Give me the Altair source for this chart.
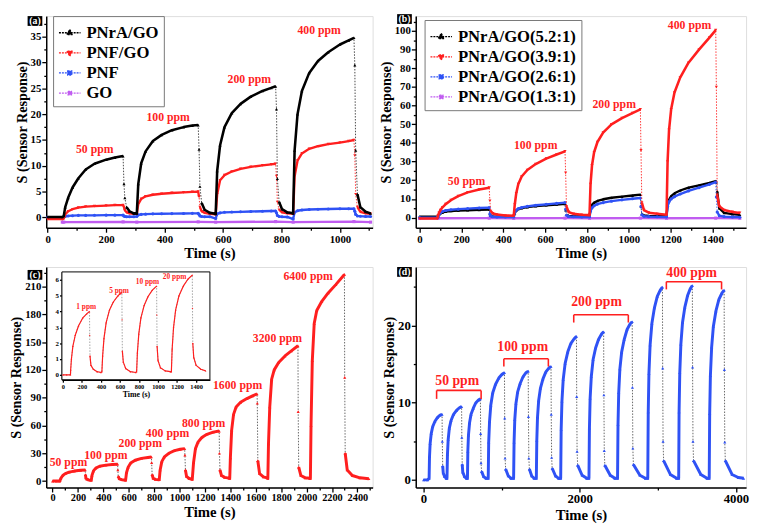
import altair as alt
import pandas as pd

FONT = "Liberation Serif"
RED = "#ff1f1f"
BLUE = "#2f52f5"
MAG = "#c05cf0"

# ---------------- Panel (a) ----------------
A_T = [0, 50,
       55, 60, 70, 85, 105, 130, 160, 200, 230, 258,
       261, 264, 270, 280, 295,
       305, 310, 320, 335, 360, 390, 425, 465, 495, 515,
       518, 521, 527, 537, 555,
       575, 580, 590, 605, 630, 660, 695, 735, 765, 780,
       783, 786, 792, 802, 820,
       840, 845, 855, 870, 895, 925, 960, 1000, 1030, 1048,
       1051, 1054, 1060, 1070, 1088, 1105]
A_PNRA_GO = [0.1, 0.1,
             0.3, 2.0, 3.8, 5.8, 7.6, 9.3, 10.4, 11.2, 11.6, 11.9,
             6.5, 3.8, 2.0, 1.2, 0.8,
             0.8, 6.5, 10.5, 12.8, 14.8, 16.0, 16.9, 17.5, 17.8, 17.9,
             13.2, 6.0, 2.8, 1.5, 0.9,
             0.7, 9.0, 14.0, 17.5, 20.2, 22.0, 23.4, 24.5, 25.1, 25.4,
             21.0, 7.5, 3.0, 1.6, 1.0,
             0.8, 13.0, 20.0, 24.5, 28.0, 30.3, 32.0, 33.5, 34.3, 34.8,
             29.5, 13.0, 4.5, 2.0, 1.1, 0.8]
A_PNF_GO = [-0.3, -0.3,
            -0.2, 0.6, 1.2, 1.6, 1.9, 2.1, 2.2, 2.3, 2.4, 2.4,
            2.0, 1.4, 1.0, 0.8, 0.7,
            0.7, 2.6, 3.6, 4.1, 4.4, 4.6, 4.75, 4.85, 4.95, 5.0,
            4.0, 2.0, 1.2, 0.9, 0.7,
            0.6, 4.5, 7.2, 8.2, 8.9, 9.4, 9.8, 10.1, 10.3, 10.4,
            8.0, 3.0, 1.5, 1.0, 0.8,
            0.7, 8.0, 11.0, 12.4, 13.3, 13.8, 14.2, 14.5, 14.8, 15.0,
            12.0, 4.5, 2.0, 1.1, 0.8, 0.7]
A_PNF = [0.05, 0.05,
         0.1, 0.2, 0.3, 0.35, 0.4, 0.4, 0.42, 0.45, 0.45, 0.45,
         0.3, 0.2, 0.15, 0.15, 0.15,
         0.2, 0.5, 0.6, 0.65, 0.7, 0.72, 0.75, 0.78, 0.8, 0.8,
         0.6, 0.3, 0.2, 0.15, 0.15,
         -0.2, 0.7, 0.9, 1.0, 1.05, 1.1, 1.15, 1.2, 1.25, 1.25,
         0.9, 0.4, 0.2, 0.15, 0.1,
         -0.3, 1.0, 1.3, 1.45, 1.55, 1.6, 1.65, 1.7, 1.7, 1.7,
         1.2, 0.6, 0.3, 0.25, 0.2, 0.2]
A_GO_T = [50, 55, 258, 305, 515, 575, 780, 840, 1048, 1105]
A_GO = [-0.9, -0.9, -0.85, -0.9, -0.85, -0.9, -0.8, -0.9, -0.8, -0.9]
A_NAMES = ["PNrA/GO", "PNF/GO", "PNF", "GO"]
A_LAB = ["50 ppm", "100 ppm", "200 ppm", "400 ppm"]
A_LAB_X = [161, 412, 690, 929]
A_LAB_Y = [13.3, 19.5, 26.8, 36.2]

# ---------------- Panel (b) ----------------
B_T = [0, 85,
       88, 93, 100, 110, 125, 150, 185, 230, 285, 333,
       336, 340, 350, 370, 410,
       450, 455, 462, 472, 488, 515, 555, 605, 655, 695,
       698, 702, 712, 735, 775,
       812, 817, 824, 834, 850, 877, 917, 967, 1017, 1055,
       1058, 1062, 1072, 1095, 1135,
       1180, 1185, 1192, 1202, 1218, 1245, 1285, 1335, 1385, 1415,
       1418, 1422, 1432, 1455, 1495, 1530]
B_52 = [0.5, 0.5,
        0.6, 1.5, 2.3, 2.8, 3.2, 3.5, 3.7, 3.9, 4.1, 4.3,
        2.0, 1.0, 0.6, 0.5, 0.5,
        0.5, 2.5, 3.8, 4.6, 5.1, 5.6, 6.1, 6.6, 7.0, 7.3,
        4.0, 1.5, 0.9, 0.7, 0.6,
        0.8, 4.5, 6.8, 8.0, 8.9, 9.8, 10.6, 11.2, 11.8, 12.3,
        6.0, 1.8, 1.2, 0.9, 0.8,
        1.0, 6.5, 9.5, 11.5, 13.0, 14.5, 16.0, 17.3, 18.6, 19.5,
        19.0, 14.0, 5.0, 2.5, 1.8, 1.5]
B_39 = [-0.5, -0.5,
        1.0, 2.5, 4.0, 5.5, 7.2, 9.3, 11.5, 13.5, 15.0, 16.0,
        9.0, 3.5, 2.2, 1.6, 1.1,
        1.0, 7.0, 13.0, 18.0, 22.0, 25.5, 28.7, 31.6, 33.8, 35.5,
        24.0, 6.0, 3.0, 2.0, 1.5,
        1.3, 18.0, 28.0, 35.0, 40.5, 45.5, 50.0, 53.3, 56.0, 58.0,
        36.0, 8.0, 4.0, 2.6, 2.0,
        1.5, 30.0, 47.0, 58.0, 67.0, 75.0, 83.0, 90.0, 96.5, 100.5,
        70.0, 12.0, 6.0, 4.0, 3.0, 2.5]
B_26 = [0.0, 0.0,
        0.2, 1.5, 2.6, 3.3, 3.8, 4.2, 4.5, 4.8, 5.1, 5.3,
        2.0, 0.8, 0.4, 0.3, 0.3,
        0.3, 2.8, 4.0, 4.8, 5.4, 6.0, 6.6, 7.1, 7.6, 8.0,
        4.5, 1.2, 0.6, 0.4, 0.3,
        0.3, 3.5, 5.2, 6.3, 7.2, 8.0, 8.8, 9.5, 10.1, 10.5,
        6.0, 1.5, 0.7, 0.5, 0.4,
        0.3, 6.0, 8.5, 10.0, 11.2, 12.6, 14.3, 16.0, 17.8, 19.0,
        11.0, 3.0, 1.0, 0.5, 0.3, 0.2]
B_13_T = [0, 88, 333, 450, 695, 812, 1055, 1180, 1415, 1530]
B_13 = [-0.5, -0.4, -0.3, -0.4, -0.3, -0.4, -0.3, -0.4, -0.3, -0.4]
B_NAMES = ["PNrA/GO(5.2:1)", "PNrA/GO(3.9:1)", "PNrA/GO(2.6:1)", "PNrA/GO(1.3:1)"]
B_LAB = ["50 ppm", "100 ppm", "200 ppm", "400 ppm"]
B_LAB_X = [225, 555, 930, 1290]
B_LAB_Y = [19.8, 38.7, 60.8, 103.4]

# ---------------- Panel (c) ----------------
C_T = [0, 30, 55,
       58, 65, 80, 100, 130, 170, 220, 257,
       259, 262, 270, 285, 300,
       305, 310, 322, 340, 370, 420, 470, 512,
       514, 517, 525, 545, 570,
       575, 582, 595, 615, 650, 700, 750, 778,
       780, 784, 792, 810, 835,
       840, 847, 860, 880, 915, 960, 1005, 1040,
       1042, 1046, 1055, 1075, 1097,
       1100, 1110, 1125, 1145, 1175, 1215, 1265, 1312,
       1314, 1318, 1330, 1355, 1390,
       1395, 1400, 1410, 1425, 1445, 1480, 1530, 1575, 1610,
       1612, 1616, 1630, 1660, 1690,
       1695, 1700, 1710, 1725, 1745, 1780, 1830, 1880, 1932,
       1934, 1938, 1955, 1990, 2025,
       2030, 2035, 2045, 2060, 2080, 2120, 2170, 2230, 2298,
       2300, 2304, 2320, 2360, 2420, 2490]
C_S = [0.0, 0.0, 0.0,
       0.5, 3.0, 6.0, 8.0, 9.6, 10.8, 11.6, 12.0,
       7.0, 3.5, 2.0, 1.3, 1.0,
       1.0, 6.0, 11.0, 14.0, 16.0, 17.2, 17.8, 18.2,
       12.0, 5.0, 2.5, 1.5, 1.2,
       1.0, 9.0, 15.0, 19.5, 22.5, 24.5, 25.5, 26.0,
       20.0, 7.0, 3.0, 1.8, 1.5,
       1.5, 12.0, 21.0, 26.0, 30.0, 32.8, 34.3, 35.0,
       28.0, 12.0, 5.0, 2.8, 2.2,
       2.0, 20.0, 35.0, 42.0, 47.0, 50.5, 52.8, 54.0,
       30.0, 12.0, 6.0, 4.0, 3.2,
       3.0, 25.0, 55.0, 72.0, 80.0, 85.0, 89.0, 92.0, 94.0,
       84.0, 22.0, 8.0, 4.5, 3.5,
       3.0, 40.0, 80.0, 110.0, 120.0, 128.0, 135.0, 140.5, 146.0,
       75.0, 15.0, 6.0, 3.5, 3.0,
       3.0, 60.0, 130.0, 170.0, 184.0, 194.0, 203.0, 212.0, 223.0,
       112.0, 30.0, 12.0, 6.0, 3.5, 2.5]
C_LAB = ["50 ppm", "100 ppm", "200 ppm", "400 ppm", "800 ppm", "1600 ppm", "3200 ppm", "6400 ppm"]
C_LAB_X = [125, 420, 690, 905, 1189, 1457, 1771, 2012]
C_LAB_Y = [20.0, 28.5, 40.5, 51.5, 63, 104, 154.7, 221]

# inset of (c)
CI_T = [0, 40, 80,
        82, 90, 105, 130, 165, 210, 250, 280,
        282, 285, 295, 320, 360, 400,
        410, 418, 432, 455, 490, 530, 580, 620,
        622, 625, 635, 660, 710, 765,
        775, 783, 798, 820, 855, 895, 940, 985,
        987, 990, 1000, 1025, 1075, 1130,
        1140, 1148, 1163, 1185, 1220, 1265, 1315, 1360,
        1362, 1365, 1375, 1400, 1450, 1500]
CI_S = [0, 0, 0,
        0.3, 1.0, 1.8, 2.5, 3.1, 3.6, 3.85, 4.0,
        2.5, 1.2, 0.6, 0.35, 0.2, 0.15,
        0.2, 1.2, 2.3, 3.3, 4.1, 4.6, 5.0, 5.2,
        3.5, 1.5, 0.8, 0.4, 0.2, 0.15,
        0.2, 1.4, 2.6, 3.6, 4.4, 4.95, 5.35, 5.6,
        3.8, 1.8, 0.9, 0.45, 0.25, 0.2,
        0.2, 1.6, 3.0, 4.1, 5.0, 5.6, 6.05, 6.3,
        4.2, 2.0, 1.1, 0.6, 0.35, 0.25]
CI_LAB = ["1 ppm", "5 ppm", "10 ppm", "20 ppm"]
CI_LAB_X = [245, 590, 889, 1174]
CI_LAB_Y = [4.3, 5.3, 5.84, 6.15]

# ---------------- Panel (d) ----------------
D_T = [0, 50,
       71, 76, 84, 98, 117, 146, 179, 212, 237, 240, 245, 252, 270, 290,
       300, 306, 315, 330, 352, 384, 422, 459, 487, 490, 495, 502, 525, 550,
       562, 567, 575, 589, 608, 637, 670, 703, 728, 731, 736, 743, 770, 800,
       828, 834, 845, 861, 886, 922, 963, 1005, 1036, 1039, 1044, 1051, 1085, 1120,
       1153, 1159, 1168, 1183, 1205, 1237, 1275, 1312, 1340, 1343, 1348, 1355, 1385, 1415,
       1444, 1450, 1459, 1474, 1497, 1529, 1566, 1604, 1632, 1635, 1640, 1647, 1690, 1730,
       1756, 1762, 1772, 1788, 1813, 1847, 1887, 1928, 1958, 1961, 1966, 1973, 2030, 2090,
       2118, 2124, 2133, 2148, 2171, 2203, 2240, 2278, 2306, 2309, 2314, 2321, 2390, 2450,
       2484, 2490, 2499, 2514, 2537, 2569, 2606, 2644, 2672, 2675, 2680, 2687, 2770, 2840,
       2871, 2877, 2886, 2901, 2924, 2956, 2993, 3031, 3059, 3062, 3067, 3074, 3160, 3240,
       3267, 3272, 3281, 3295, 3316, 3346, 3381, 3416, 3442, 3445, 3450, 3457, 3550, 3630,
       3658, 3664, 3673, 3689, 3711, 3744, 3782, 3820, 3849, 3852, 3857, 3864, 3950, 4030, 4099]
D_S = [0.0, 0.0,
       0.2, 3.0, 4.7, 6.0, 6.9, 7.6, 8.1, 8.4, 8.5, 5.0, 1.8, 0.9, 0.4, 0.2,
       0.2, 3.3, 5.2, 6.7, 7.7, 8.5, 9.0, 9.35, 9.5, 5.5, 2.0, 1.0, 0.4, 0.2,
       0.2, 3.7, 5.8, 7.4, 8.5, 9.3, 10.0, 10.35, 10.5, 6.0, 2.2, 1.1, 0.4, 0.2,
       0.2, 4.9, 7.6, 9.7, 11.3, 12.4, 13.2, 13.7, 13.9, 8.0, 2.8, 1.4, 0.5, 0.2,
       0.2, 4.9, 7.8, 9.9, 11.4, 12.5, 13.4, 13.9, 14.1, 8.2, 2.8, 1.4, 0.5, 0.2,
       0.2, 5.1, 8.1, 10.3, 11.9, 13.1, 14.0, 14.5, 14.7, 8.5, 2.9, 1.5, 0.5, 0.2,
       0.2, 6.5, 10.2, 13.0, 15.1, 16.6, 17.7, 18.3, 18.6, 10.8, 3.7, 1.9, 0.6, 0.2,
       0.2, 6.7, 10.6, 13.4, 15.6, 17.1, 18.2, 18.9, 19.2, 11.0, 3.8, 1.9, 0.6, 0.2,
       0.2, 7.2, 11.3, 14.4, 16.6, 18.2, 19.5, 20.2, 20.5, 12.0, 4.1, 2.0, 0.6, 0.2,
       0.2, 8.8, 13.8, 17.5, 20.3, 22.3, 23.8, 24.6, 25.0, 14.5, 5.0, 2.5, 0.7, 0.2,
       0.2, 8.8, 13.9, 17.6, 20.4, 22.4, 23.9, 24.8, 25.2, 14.6, 5.0, 2.5, 0.7, 0.2,
       0.2, 8.6, 13.5, 17.2, 19.9, 21.9, 23.4, 24.2, 24.6, 14.3, 4.9, 2.5, 0.7, 0.3, 0.2]
D_LAB = ["50 ppm", "100 ppm", "200 ppm", "400 ppm"]
D_BR_START = [167, 1028, 1923, 3109]
D_BR_END = [737, 1598, 2622, 3816]
D_BR_TOP = [11.6, 15.7, 21.4, 25.7]
D_BR_TIP = [10.5, 14.7, 20.4, 24.7]
D_LAB_X = [150, 945, 1890, 3109]
D_LAB_Y = [12.8, 17.2, 23.1, 26.8]

assert len(A_T) == len(A_PNRA_GO) == len(A_PNF_GO) == len(A_PNF)
assert len(B_T) == len(B_52) == len(B_39) == len(B_26)
assert len(C_T) == len(C_S)
assert len(CI_T) == len(CI_S)
assert len(D_T) == len(D_S)

# legend symbols: dotted line with a marker in the middle
SYM_UP = "M-1,0H1M0,-0.3L0.27,0.17L-0.27,0.17Z"
SYM_DOWN = "M-1,0H1M0,0.3L0.27,-0.17L-0.27,-0.17Z"
SYM_CIRC = "M-1,0H1M-0.19,-0.19H0.19V0.19H-0.19Z"
SYM_SQ = "M-1,0H1M-0.16,-0.16H0.16V0.16H-0.16Z"


def axis(title, values, step, lsize, tsize, tpad=1, lpad=1, tick=4.5, **kw):
    return alt.Axis(
        title=title, values=values, format="d",
        labelExpr=f"datum.value % {step} == 0 ? datum.label : ''",
        tickSize={"condition": {"test": f"datum.value % {step} != 0", "value": round(tick * 0.55, 2)}, "value": tick},
        labelFont=FONT, labelFontWeight="bold", labelFontSize=lsize, labelColor="black",
        titleFont=FONT, titleFontWeight="bold", titleFontSize=tsize, titleColor="black",
        titlePadding=tpad, labelPadding=lpad, grid=False, domainColor="black", domainWidth=1.5,
        tickColor="black", tickWidth=1.3, labelOverlap=False, labelFlush=False, **kw)


def series(t, v, color, shape, xs, ys, xax, yax, dot_color, thr, width=2.4, msize=10):
    seg, k = [], 0
    for i in range(len(t)):
        if i > 0 and t[i] - t[i - 1] <= 8 and v[i - 1] - v[i] > thr:
            k += 1
        seg.append(k)
    df = pd.DataFrame({"t": t, "v": v, "seg": seg})
    base = alt.Chart(df).encode(x=alt.X("t:Q", scale=xs, axis=xax), y=alt.Y("v:Q", scale=ys, axis=yax))
    dotted = base.mark_line(color=dot_color, strokeWidth=0.9, strokeDash=[1.5, 1.5])
    thick = base.mark_line(color=color, strokeWidth=width, strokeJoin="round").encode(detail="seg:N")
    pts = base.mark_point(shape=shape, filled=True, color=color, size=msize, opacity=1)
    return [dotted, thick, pts]


def texts(labels, xv, yv, xs, ys, xax, yax, size, align="center", color=RED):
    df = pd.DataFrame({"t": xv, "v": yv, "lab": labels})
    return alt.Chart(df).mark_text(font=FONT, fontWeight="bold", fontSize=size, color=color,
                                   align=align, baseline="middle").encode(
        x=alt.X("t:Q", scale=xs, axis=xax), y=alt.Y("v:Q", scale=ys, axis=yax), text="lab:N")


def tag(letter, y0=0):
    df = pd.DataFrame({"k": [0]})
    r = alt.Chart(df).mark_rect(color="black").encode(
        x=alt.value(-19), x2=alt.value(-4), y=alt.value(y0), y2=alt.value(y0 + 10))
    t = alt.Chart(df).mark_text(text=f"({letter})", color="white", font=FONT, fontWeight="bold",
                                fontSize=10).encode(x=alt.value(-11.5), y=alt.value(y0 + 5.5))
    return [r, t]


def legend_layer(names, colors, shapes, lx, ly, limit):
    df = pd.DataFrame({"name": names})
    leg = alt.Legend(title=None, orient="none", legendX=lx, legendY=ly, fillColor="white",
                     strokeColor="#777777", padding=5, symbolSize=484, symbolStrokeWidth=1.3,
                     symbolDash=[2, 1], symbolOpacity=1, labelFont=FONT, labelFontWeight="bold",
                     labelFontSize=17, labelColor="black", labelOffset=5, rowPadding=0.5,
                     labelLimit=limit)
    return alt.Chart(df).transform_filter("false").mark_point(filled=True).encode(
        color=alt.Color("name:N", scale=alt.Scale(domain=names, range=colors), legend=leg),
        stroke=alt.Stroke("name:N", scale=alt.Scale(domain=names, range=colors), legend=leg),
        shape=alt.Shape("name:N", scale=alt.Scale(domain=names, range=shapes), legend=leg),
    )


YT = "S (Sensor Response)"
XT = "Time (s)"
W1, W2, H1, H2 = 333, 337, 216, 225
XTS, YTS = 15, 14.5

# ---- (a) ----
xs_a = alt.Scale(domain=[-5, 1112], nice=False, zero=False)
ys_a = alt.Scale(domain=[-2, 39], nice=False, zero=False)
xax_a = axis(XT, [0, 100, 200, 300, 400, 500, 600, 700, 800, 900, 1000, 1100], 200, 11, XTS, tpad=2)
yax_a = axis(YT, [0, 2.5, 5, 7.5, 10, 12.5, 15, 17.5, 20, 22.5, 25, 27.5, 30, 32.5, 35, 37.5], 5, 11, YTS)
layers_a = []
layers_a += series(A_GO_T, A_GO, MAG, "square", xs_a, ys_a, xax_a, yax_a, MAG, 1.0)
layers_a += series(A_T, A_PNF, BLUE, "circle", xs_a, ys_a, xax_a, yax_a, BLUE, 1.0)
layers_a += series(A_T, A_PNF_GO, RED, "triangle-down", xs_a, ys_a, xax_a, yax_a, RED, 1.0)
layers_a += series(A_T, A_PNRA_GO, "black", "triangle-up", xs_a, ys_a, xax_a, yax_a, "#333333", 1.0, width=2.6)
layers_a.append(texts(A_LAB, A_LAB_X, A_LAB_Y, xs_a, ys_a, xax_a, yax_a, 12))
layers_a += tag("a")
layers_a.append(legend_layer(A_NAMES, ["black", RED, BLUE, MAG], [SYM_UP, SYM_DOWN, SYM_CIRC, SYM_SQ], 7, 0, 76))
panel_a = alt.layer(*layers_a).properties(width=W1, height=H1)

# ---- (b) ----
xs_b = alt.Scale(domain=[-18, 1560], nice=False, zero=False)
ys_b = alt.Scale(domain=[-5.5, 108], nice=False, zero=False)
xax_b = axis(XT, [0, 100, 200, 300, 400, 500, 600, 700, 800, 900, 1000, 1100, 1200, 1300, 1400, 1500], 200, 11, XTS, tpad=2)
yax_b = axis(YT, [0, 5, 10, 15, 20, 25, 30, 35, 40, 45, 50, 55, 60, 65, 70, 75, 80, 85, 90, 95, 100, 105], 10, 11, YTS)
layers_b = []
layers_b += series(B_13_T, B_13, MAG, "square", xs_b, ys_b, xax_b, yax_b, MAG, 2.0)
layers_b += series(B_T, B_52, "black", "triangle-up", xs_b, ys_b, xax_b, yax_b, "#333333", 2.0)
layers_b += series(B_T, B_26, BLUE, "circle", xs_b, ys_b, xax_b, yax_b, BLUE, 2.0)
layers_b += series(B_T, B_39, RED, "triangle-down", xs_b, ys_b, xax_b, yax_b, RED, 2.0, width=2.6)
layers_b.append(texts(B_LAB, B_LAB_X, B_LAB_Y, xs_b, ys_b, xax_b, yax_b, 12))
layers_b += tag("b", -2)
layers_b.append(legend_layer(B_NAMES, ["black", RED, BLUE, MAG], [SYM_UP, SYM_DOWN, SYM_CIRC, SYM_SQ], 9, 4, 126))
panel_b = alt.layer(*layers_b).properties(width=W2, height=H1)

# ---- (c) ----
xs_c = alt.Scale(domain=[-50, 2520], nice=False, zero=False)
ys_c = alt.Scale(domain=[-7, 231], nice=False, zero=False)
xax_c = axis(XT, [0, 100, 200, 300, 400, 500, 600, 700, 800, 900, 1000, 1100, 1200, 1300, 1400, 1500,
                  1600, 1700, 1800, 1900, 2000, 2100, 2200, 2300, 2400, 2500], 200, 10.5, XTS, tpad=2)
yax_c = axis(YT, [0, 15, 30, 45, 60, 75, 90, 105, 120, 135, 150, 165, 180, 195, 210, 225], 30, 11, YTS)
main_c = []
main_c += series(C_T, C_S, RED, "triangle-up", xs_c, ys_c, xax_c, yax_c, "#555555", 4.0, width=3.0)
main_c.append(texts(C_LAB, C_LAB_X, C_LAB_Y, xs_c, ys_c, xax_c, yax_c, 12))
main_c += tag("c", 3)

IL, IR, IT, IB = 16, 167, 5, 115
xs_ci = alt.Scale(domain=[-10, 1545], nice=False, zero=False, range=[IL, IR])
ys_ci = alt.Scale(domain=[-0.31, 6.5], nice=False, zero=False, range=[IB, IT])
xax_ci = axis(XT, [0, 200, 400, 600, 800, 1000, 1200, 1400], 200, 6.5, 8, tpad=1, lpad=1, tick=2.5,
              orient="bottom", offset=-(H2 - IB))
yax_ci = axis(None, [0, 1, 2, 3, 4, 5, 6], 1, 7, 8, tpad=1, lpad=1, tick=2.5, orient="left", offset=-IL)
box_df = pd.DataFrame({"x0": [-10], "x1": [1545], "y0": [-0.31], "y1": [6.5]})
inset_c = [alt.Chart(box_df).mark_rect(fill="white", stroke="black", strokeWidth=1).encode(
    x=alt.X("x0:Q", scale=xs_ci, axis=xax_ci), x2="x1:Q",
    y=alt.Y("y0:Q", scale=ys_ci, axis=yax_ci), y2="y1:Q")]
inset_c += series(CI_T, CI_S, RED, "triangle-up", xs_ci, ys_ci, xax_ci, yax_ci, "#999999", 0.5, width=1.2, msize=3)
inset_c.append(texts(CI_LAB, CI_LAB_X, CI_LAB_Y, xs_ci, ys_ci, xax_ci, yax_ci, 7.5))
panel_c = alt.layer(alt.layer(*main_c), alt.layer(*inset_c)).resolve_scale(
    x="independent", y="independent").properties(width=W1, height=H2)

# ---- (d) ----
xs_d = alt.Scale(domain=[-100, 4130], nice=False, zero=False)
ys_d = alt.Scale(domain=[-1, 27.6], nice=False, zero=False)
xax_d = axis(XT, [0, 1000, 2000, 3000, 4000], 2000, 13, XTS, tpad=2)
yax_d = axis(YT, [0, 5, 10, 15, 20, 25], 10, 13, YTS)
layers_d = []
layers_d += series(D_T, D_S, BLUE, "triangle-up", xs_d, ys_d, xax_d, yax_d, "#555555", 1.0, width=3.0)
br_h = pd.DataFrame({"s": D_BR_START, "e": D_BR_END, "top": D_BR_TOP})
br_v = pd.DataFrame({"x": D_BR_START + D_BR_END, "top": D_BR_TOP + D_BR_TOP, "tip": D_BR_TIP + D_BR_TIP})
layers_d.append(alt.Chart(br_h).mark_rule(color=RED, strokeWidth=1.6).encode(
    x=alt.X("s:Q", scale=xs_d, axis=xax_d), x2="e:Q", y=alt.Y("top:Q", scale=ys_d, axis=yax_d)))
layers_d.append(alt.Chart(br_v).mark_rule(color=RED, strokeWidth=1.6).encode(
    x=alt.X("x:Q", scale=xs_d, axis=xax_d), y=alt.Y("top:Q", scale=ys_d, axis=yax_d), y2="tip:Q"))
layers_d.append(texts(D_LAB, D_LAB_X, D_LAB_Y, xs_d, ys_d, xax_d, yax_d, 14, align="left"))
layers_d += tag("d")
panel_d = alt.layer(*layers_d).properties(width=W2, height=H2)

chart = alt.concat(panel_a, panel_b, panel_c, panel_d, columns=2,
                   spacing={"row": 4, "column": 4}).resolve_scale(
    color="independent", stroke="independent", shape="independent").properties(
    padding=0, background="white"
).configure_view(stroke="black", strokeWidth=1.5).configure(font=FONT)

chart.save("out.html", embed_options={"renderer": "svg", "actions": False})
